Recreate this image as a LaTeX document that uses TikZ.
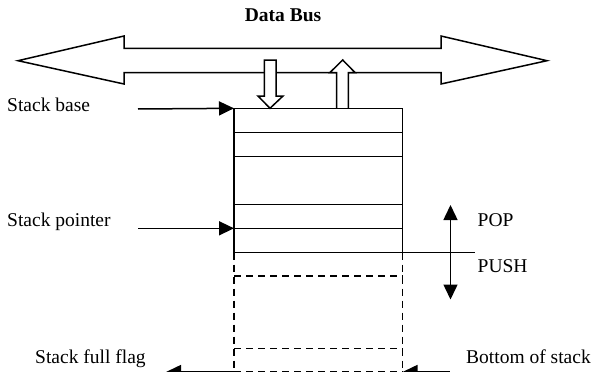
\documentclass[tikz,border=0pt]{standalone}
\usepackage{fontspec}
\setmainfont{Liberation Serif}
\usetikzlibrary{arrows.meta}
\tikzset{
  ln/.style={line width=1.5pt},
  bigarrow/.style={line width=1.5pt, fill=white, line join=miter},
  ptr/.style={line width=1.5pt, -{Triangle[length=15pt,width=14pt]}},
  lbl/.style={font=\fontsize{19.5pt}{22pt}\selectfont, inner sep=0pt, anchor=base west},
  dsh/.style={line width=1.5pt, dash pattern=on 7pt off 5pt},
}
\begin{document}
\begin{tikzpicture}[x=1pt,y=-1pt]
\useasboundingbox (0,0) rectangle (595,372);
% title
\node[lbl, anchor=base, font=\fontsize{19.5pt}{22pt}\selectfont\bfseries] (title) at (283,21) {Data Bus};
% bus arrow
\draw[bigarrow] (18,60.7) -- (124,36) -- (124,48.3) -- (441,48.3) -- (441,36) -- (547,60.7)
  -- (441,84) -- (441,72.5) -- (124,72.5) -- (124,84) -- cycle;
% stack box corners
\coordinate (tl) at (234,108.3);
\coordinate (tr) at (402.5,108.3);
\coordinate (bl) at (234,252.7);
\coordinate (br) at (402.5,252.7);
% small bus arrows
\draw[bigarrow] (264.3,60) -- (276,60) -- (276,96) -- (283,96) -- (270,108.3) -- (258,96) -- (264.3,96) -- cycle;
\draw[bigarrow] (336.7,108.3) -- (336.7,72.5) -- (330,72.5) -- (342.7,60) -- (355,72.5) -- (348.3,72.5) -- (348.3,108.3);
% solid box
\draw[ln] (tl) rectangle (br);
\foreach \y in {132.7,156.7,204.3,228.3}
  \draw[ln] (234,\y) -- (402.5,\y);
% dashed extension
\draw[dsh] (bl) -- (234,380);
\draw[dsh] (br) -- (402.5,380);
\draw[dsh] (234,276) -- (402.5,276);
\draw[dsh] (234,348.3) -- (402.5,348.3);
\draw[dsh] (234,372) -- (402.5,372);
% labels
\node[lbl] (sbase) at (7,111) {Stack base};
\node[lbl] (sptr) at (7,226) {Stack pointer};
\node[lbl] (pop) at (477.5,226) {POP};
\node[lbl] (push) at (477.5,272) {PUSH};
\node[lbl] (full) at (35,363) {Stack full flag};
\node[lbl] (bottom) at (466,363) {Bottom of stack};
% pointers
\coordinate (sbs) at (138,109);
\coordinate (sps) at (138,228.3);
\coordinate (spt) at (234,228.3);
\draw[ptr] (sbs) -- (tl);
\draw[ptr] (sps) -- (spt);
% pop/push
\coordinate (popc) at (450.5,252.7);
\coordinate (poptip) at (450.5,205);
\coordinate (pushtip) at (450.5,299.5);
\coordinate (hend) at (475,252.7);
\draw[ln] (br) -- (hend);
\draw[ptr] (popc) -- (poptip);
\draw[ptr] (popc) -- (pushtip);
% bottom arrows
\coordinate (fl0) at (234,372);
\coordinate (fl1) at (166,372);
\coordinate (bs0) at (450,372);
\coordinate (bs1) at (402.5,372);
\draw[ptr] (fl0) -- (fl1);
\draw[ptr] (bs0) -- (bs1);
\end{tikzpicture}
\end{document}
